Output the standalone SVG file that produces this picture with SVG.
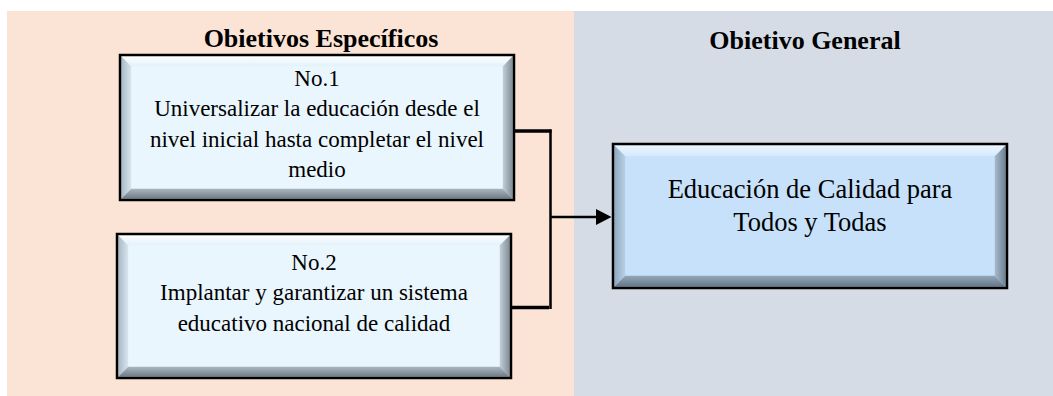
<svg xmlns="http://www.w3.org/2000/svg" width="1053" height="396" viewBox="0 0 1053 396">
<style>
.t{font-family:"Liberation Serif","Times New Roman",serif;fill:#000;text-anchor:middle}
.s{font-size:23px}
.b{font-size:26.5px}
.h{font-size:26px;font-weight:bold}
.border{fill:none;stroke:#000;stroke-width:2.5}
.ln{fill:none;stroke:#000;stroke-linecap:butt}
</style>
<defs>
<linearGradient id="sTop" x1="0" y1="0" x2="0" y2="1"><stop offset="0" stop-color="#ffffff"/><stop offset="1" stop-color="#e2f1fa"/></linearGradient>
<linearGradient id="sLeft" x1="0" y1="0" x2="1" y2="0"><stop offset="0" stop-color="#a9b9c5"/><stop offset="1" stop-color="#d6e5ee"/></linearGradient>
<linearGradient id="sRight" x1="0" y1="0" x2="1" y2="0"><stop offset="0" stop-color="#c3cfd8"/><stop offset="1" stop-color="#7e8c96"/></linearGradient>
<linearGradient id="sBot" x1="0" y1="0" x2="0" y2="1"><stop offset="0" stop-color="#aab6bf"/><stop offset="1" stop-color="#6e7b85"/></linearGradient>
<linearGradient id="gTop" x1="0" y1="0" x2="0" y2="1"><stop offset="0" stop-color="#eef7fe"/><stop offset="1" stop-color="#d3e9fb"/></linearGradient>
<linearGradient id="gLeft" x1="0" y1="0" x2="1" y2="0"><stop offset="0" stop-color="#8ea7bc"/><stop offset="1" stop-color="#b8d1e6"/></linearGradient>
<linearGradient id="gRight" x1="0" y1="0" x2="1" y2="0"><stop offset="0" stop-color="#a6bacb"/><stop offset="1" stop-color="#6c8093"/></linearGradient>
<linearGradient id="gBot" x1="0" y1="0" x2="0" y2="1"><stop offset="0" stop-color="#94a7b7"/><stop offset="1" stop-color="#637689"/></linearGradient>
</defs>
<g id="background">
<rect x="7" y="11" width="567" height="385" fill="#fbe4d5"/>
<rect x="574" y="11" width="479" height="385" fill="#d6dce5"/>
<text class="t h" x="321" y="47">Obietivos Específicos</text>
<text class="t h" x="805" y="49">Obietivo General</text>
</g>
<g id="node-obj1">
<rect x="121" y="56" width="392" height="143" fill="#eaf6fd"/>
<polygon points="121.2,56.2 512.8,56.2 502.8,66.2 131.2,66.2" fill="url(#sTop)"/>
<polygon points="121.2,56.2 131.2,66.2 131.2,188.8 121.2,198.8" fill="url(#sLeft)"/>
<polygon points="512.8,56.2 512.8,198.8 502.8,188.8 502.8,66.2" fill="url(#sRight)"/>
<polygon points="121.2,198.8 512.8,198.8 502.8,188.8 131.2,188.8" fill="url(#sBot)"/>
<rect class="border" x="120" y="55" width="394" height="145"/>
<text class="t s" x="317" y="86">No.1</text>
<text class="t s" x="317" y="116">Universalizar la educación desde el</text>
<text class="t s" x="317" y="147">nivel inicial hasta completar el nivel</text>
<text class="t s" x="317" y="177">medio</text>
</g>
<g id="node-obj2">
<rect x="118" y="235" width="392" height="142" fill="#eaf6fd"/>
<polygon points="118.2,235.2 509.8,235.2 499.8,245.2 128.2,245.2" fill="url(#sTop)"/>
<polygon points="118.2,235.2 128.2,245.2 128.2,366.8 118.2,376.8" fill="url(#sLeft)"/>
<polygon points="509.8,235.2 509.8,376.8 499.8,366.8 499.8,245.2" fill="url(#sRight)"/>
<polygon points="118.2,376.8 509.8,376.8 499.8,366.8 128.2,366.8" fill="url(#sBot)"/>
<rect class="border" x="117" y="234" width="394" height="144"/>
<text class="t s" x="314" y="270">No.2</text>
<text class="t s" x="314" y="300">Implantar y garantizar un sistema</text>
<text class="t s" x="314" y="331">educativo nacional de calidad</text>
</g>
<g id="node-general">
<rect x="614" y="145" width="392" height="142" fill="#c6e1f9"/>
<polygon points="614.2,145.2 1005.8,145.2 994.8,156.2 625.2,156.2" fill="url(#gTop)"/>
<polygon points="614.2,145.2 625.2,156.2 625.2,275.8 614.2,286.8" fill="url(#gLeft)"/>
<polygon points="1005.8,145.2 1005.8,286.8 994.8,275.8 994.8,156.2" fill="url(#gRight)"/>
<polygon points="614.2,286.8 1005.8,286.8 994.8,275.8 625.2,275.8" fill="url(#gBot)"/>
<rect class="border" x="613" y="144" width="394" height="144"/>
<text class="t b" x="810" y="198">Educación de Calidad para</text>
<text class="t b" x="810" y="231">Todos y Todas</text>
</g>
<g id="connectors">
<line class="ln" x1="514" y1="131" x2="551.5" y2="131" stroke-width="3.5"/>
<line class="ln" x1="550.5" y1="129.5" x2="550.5" y2="309" stroke-width="2.5"/>
<line class="ln" x1="511" y1="307.5" x2="549" y2="307.5" stroke-width="3.5"/>
<line class="ln" x1="550.5" y1="217" x2="598" y2="217" stroke-width="2.5"/>
<polygon points="596,209 611.5,217 596,225" fill="#000"/>
</g>
</svg>
